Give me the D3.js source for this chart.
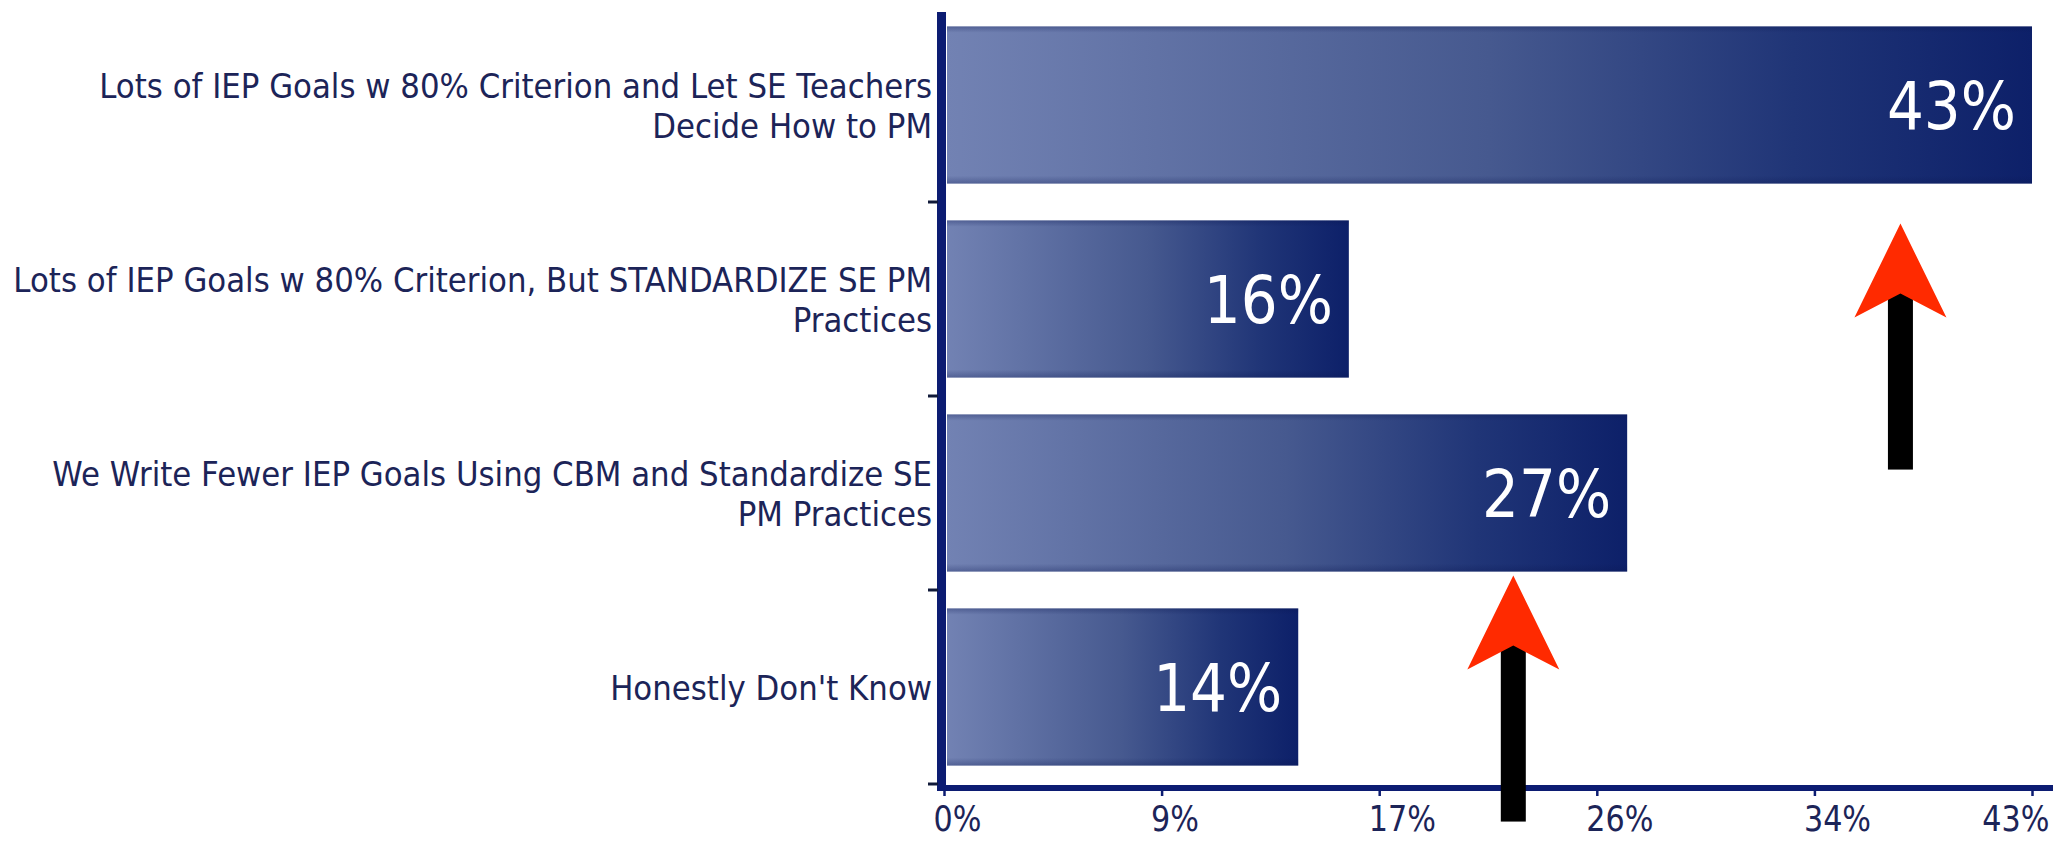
<!DOCTYPE html>
<html>
<head>
<meta charset="utf-8">
<script src="https://cdn.jsdelivr.net/npm/d3@7"></script>
<style>
  html, body { margin: 0; padding: 0; background: #ffffff; }
  svg { display: block; }
</style>
</head>
<body>
<svg id="chart" width="2053" height="842"></svg>
<script>
// Survey responses: how IEP goals and progress monitoring are handled
const categories = [
  "Lots of IEP Goals w 80% Criterion and Let SE Teachers\nDecide How to PM",
  "Lots of IEP Goals w 80% Criterion, But STANDARDIZE SE PM\nPractices",
  "We Write Fewer IEP Goals Using CBM and Standardize SE\nPM Practices",
  "Honestly Don't Know"
];
const values = [43, 16, 27, 14];
const valueLabels = ["43%", "16%", "27%", "14%"];
const tickValues = [0, 8.6, 17.2, 25.8, 34.4, 43];
const tickLabels = ["0%", "9%", "17%", "26%", "34%", "43%"];
// Arrows under two of the bars: which bar, and where along the axis
const arrowCategories = [0, 2];
const arrowValues = [37.8, 22.5];

const svg = d3.select("#chart");
const W = 2053, H = 842;
const navy = "#0c1c72";
const textNavy = "#1c2458";
const font = "'DejaVu Sans', 'Noto Sans', sans-serif";

const x = d3.scaleLinear().domain([0, 43]).range([944, 2032]);
const y = d3.scaleBand().domain(categories).range([8, 784])
  .paddingInner(0.19).paddingOuter(0.095);

// Horizontal bar fill: pale slate on the left to deep navy on the right
const defs = svg.append("defs");
const grad = defs.append("linearGradient").attr("id", "barFill")
  .attr("x1", 0).attr("y1", 0).attr("x2", 1).attr("y2", 0);
[[0, "#7282b3"], [0.5, "#46598f"], [0.78, "#203577"], [1, "#0d2069"]]
  .forEach(([o, c]) => grad.append("stop").attr("offset", o).attr("stop-color", c));
const edge = defs.append("linearGradient").attr("id", "barEdge")
  .attr("x1", 0).attr("y1", 0).attr("x2", 0).attr("y2", 1);
[[0, 0.3], [0.04, 0], [0.95, 0], [1, 0.3]]
  .forEach(([o, a]) => edge.append("stop").attr("offset", o)
    .attr("stop-color", "#0a1650").attr("stop-opacity", a));

const rows = categories.map((c, i) => ({ cat: c, value: values[i], label: valueLabels[i] }));

// Bars
const bars = svg.append("g");
bars.selectAll("rect.bar").data(rows).join("rect")
  .attr("class", "bar")
  .attr("x", x(0) + 3)
  .attr("y", d => y(d.cat))
  .attr("width", d => x(d.value) - x(0) - 3)
  .attr("height", y.bandwidth())
  .attr("fill", "url(#barFill)");
bars.selectAll("rect.edge").data(rows).join("rect")
  .attr("class", "edge")
  .attr("x", x(0) + 3)
  .attr("y", d => y(d.cat))
  .attr("width", d => x(d.value) - x(0) - 3)
  .attr("height", y.bandwidth())
  .attr("fill", "url(#barEdge)");

// Narrow text: a group scaled horizontally around its anchor point
function narrowText(parent, tx, ty, sx, str, size, anchor, color) {
  const g = parent.append("g").attr("transform", `translate(${tx},${ty}) scale(${sx},1)`);
  g.append("text")
    .attr("text-anchor", anchor)
    .attr("font-family", font)
    .attr("font-size", size)
    .attr("fill", color)
    .text(str);
  return g;
}

// Value labels inside the bar ends
const vl = svg.append("g");
rows.forEach(d => {
  const cy = y(d.cat) + y.bandwidth() / 2;
  narrowText(vl, x(d.value) - 16, cy + 24, 0.88, d.label, 66, "end", "#ffffff");
});

// Category labels, right aligned against the axis
const cl = svg.append("g");
rows.forEach(d => {
  const lines = d.cat.split("\n");
  const cy = y(d.cat) + y.bandwidth() / 2;
  const lh = 40;
  const first = cy - (lines.length - 1) * lh / 2 + 13;
  lines.forEach((ln, k) => narrowText(cl, 932, first + k * lh, 0.935, ln, 33, "end", textNavy));
});

// Y axis: thick rule with short ticks at the band boundaries
const step = y.step();
const yAxis = svg.append("g");
yAxis.append("rect").attr("x", 937).attr("y", 12).attr("width", 9).attr("height", 779).attr("fill", navy);
yAxis.selectAll("line").data(categories).join("line")
  .attr("x1", 928).attr("x2", 938)
  .attr("y1", d => y(d) + y.bandwidth() + (step - y.bandwidth()) / 2)
  .attr("y2", d => y(d) + y.bandwidth() + (step - y.bandwidth()) / 2)
  .attr("stroke", "#111a3a").attr("stroke-width", 3);

// X axis
const xAxis = d3.axisBottom(x)
  .tickValues(tickValues)
  .tickFormat((d, i) => tickLabels[i])
  .tickSizeInner(11).tickSizeOuter(0);
const gx = svg.append("g").attr("transform", "translate(0,785)").call(xAxis);
gx.select(".domain").remove();
gx.selectAll(".tick line").attr("stroke", navy).attr("stroke-width", 2.5).attr("y1", 3);
gx.selectAll(".tick text").remove();
gx.selectAll(".tick").each(function (d, i) {
  const last = i === tickValues.length - 1;
  narrowText(d3.select(this), last ? 2049 - x(d) : -11, 46, 0.84, tickLabels[i], 36,
    last ? "end" : "start", textNavy);
});
svg.append("rect").attr("x", 937).attr("y", 785).attr("width", W - 937).attr("height", 6).attr("fill", navy);

// Arrows pointing up at the bars
const arrowGaps = [40, 4];
const arrows = svg.append("g");
arrowCategories.forEach((ci, k) => {
  const c = categories[ci];
  const tipY = y(c) + y.bandwidth() + arrowGaps[k];
  const g = arrows.append("g").attr("transform", `translate(${x(arrowValues[k])},${tipY})`);
  g.append("rect").attr("x", -12.5).attr("y", 66).attr("width", 25).attr("height", 180).attr("fill", "#000000");
  g.append("path").attr("d", "M0,0 L46,94 L0,70 L-46,94 Z").attr("fill", "#ff2a00");
});
</script>
</body>
</html>
